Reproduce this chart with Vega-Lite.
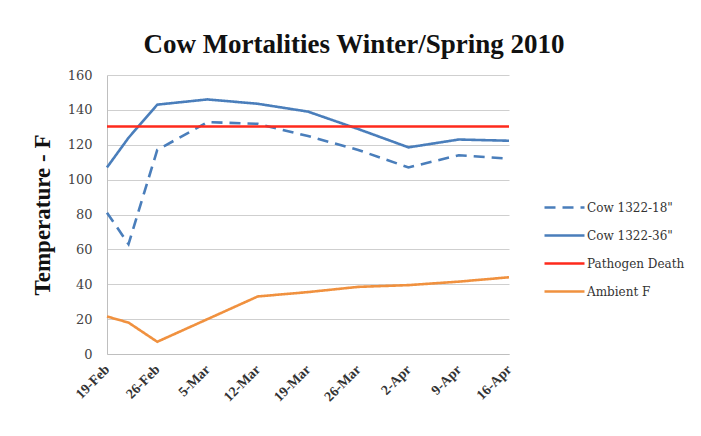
{
  "$schema": "https://vega.github.io/schema/vega-lite/v6.json",
  "autosize": "none",
  "width": 402,
  "height": 279,
  "padding": {"left": 107, "top": 75, "right": 192, "bottom": 82},
  "background": "white",
  "config": {
    "view": {"stroke": null},
    "font": "Liberation Serif"
  },
  "title": {
    "text": "Cow Mortalities Winter/Spring 2010",
    "font": "Liberation Serif",
    "fontSize": 27,
    "fontWeight": "bold",
    "color": "#111111",
    "anchor": "middle",
    "dx": 46,
    "offset": 10
  },
  "data": {
    "values": [
      {"date": "2010/02/19", "series": "Cow 1322-18\"", "temp": 81},
      {"date": "2010/02/22", "series": "Cow 1322-18\"", "temp": 63},
      {"date": "2010/02/26", "series": "Cow 1322-18\"", "temp": 117},
      {"date": "2010/03/05", "series": "Cow 1322-18\"", "temp": 133},
      {"date": "2010/03/12", "series": "Cow 1322-18\"", "temp": 132},
      {"date": "2010/03/19", "series": "Cow 1322-18\"", "temp": 125},
      {"date": "2010/03/26", "series": "Cow 1322-18\"", "temp": 117},
      {"date": "2010/04/02", "series": "Cow 1322-18\"", "temp": 107},
      {"date": "2010/04/09", "series": "Cow 1322-18\"", "temp": 114},
      {"date": "2010/04/16", "series": "Cow 1322-18\"", "temp": 112},
      {"date": "2010/02/19", "series": "Cow 1322-36\"", "temp": 107},
      {"date": "2010/02/22", "series": "Cow 1322-36\"", "temp": 124},
      {"date": "2010/02/26", "series": "Cow 1322-36\"", "temp": 143},
      {"date": "2010/03/05", "series": "Cow 1322-36\"", "temp": 146},
      {"date": "2010/03/12", "series": "Cow 1322-36\"", "temp": 143.5},
      {"date": "2010/03/19", "series": "Cow 1322-36\"", "temp": 139},
      {"date": "2010/03/26", "series": "Cow 1322-36\"", "temp": 129},
      {"date": "2010/04/02", "series": "Cow 1322-36\"", "temp": 118.5},
      {"date": "2010/04/09", "series": "Cow 1322-36\"", "temp": 123},
      {"date": "2010/04/16", "series": "Cow 1322-36\"", "temp": 122.3},
      {"date": "2010/02/19", "series": "Pathogen Death", "temp": 130.5},
      {"date": "2010/04/16", "series": "Pathogen Death", "temp": 130.5},
      {"date": "2010/02/19", "series": "Ambient F", "temp": 21.5},
      {"date": "2010/02/22", "series": "Ambient F", "temp": 18},
      {"date": "2010/02/26", "series": "Ambient F", "temp": 7},
      {"date": "2010/03/05", "series": "Ambient F", "temp": 20},
      {"date": "2010/03/12", "series": "Ambient F", "temp": 33},
      {"date": "2010/03/19", "series": "Ambient F", "temp": 35.5},
      {"date": "2010/03/26", "series": "Ambient F", "temp": 38.5},
      {"date": "2010/04/02", "series": "Ambient F", "temp": 39.5},
      {"date": "2010/04/09", "series": "Ambient F", "temp": 41.5},
      {"date": "2010/04/16", "series": "Ambient F", "temp": 44}
    ]
  },
  "mark": {"type": "line", "strokeWidth": 2.6, "strokeCap": "butt"},
  "encoding": {
    "x": {
      "field": "date",
      "type": "temporal",
      "scale": {
        "domain": [
          {"year": 2010, "month": "feb", "date": 19},
          {"year": 2010, "month": "apr", "date": 16}
        ]
      },
      "axis": {
        "title": null,
        "values": [
          {"year": 2010, "month": "feb", "date": 19},
          {"year": 2010, "month": "feb", "date": 26},
          {"year": 2010, "month": "mar", "date": 5},
          {"year": 2010, "month": "mar", "date": 12},
          {"year": 2010, "month": "mar", "date": 19},
          {"year": 2010, "month": "mar", "date": 26},
          {"year": 2010, "month": "apr", "date": 2},
          {"year": 2010, "month": "apr", "date": 9},
          {"year": 2010, "month": "apr", "date": 16}
        ],
        "format": "%-d-%b",
        "labelAngle": -45,
        "labelAlign": "right",
        "labelBaseline": "middle",
        "labelFont": "Liberation Serif",
        "labelFontSize": 14,
        "labelFontWeight": "bold",
        "labelColor": "#333333",
        "labelPadding": 13,
        "labelOverlap": false,
        "labelFlush": false,
        "grid": false,
        "ticks": false,
        "domainColor": "#bfbfbf",
        "domainWidth": 1
      }
    },
    "y": {
      "field": "temp",
      "type": "quantitative",
      "scale": {"domain": [0, 160], "nice": false},
      "axis": {
        "title": "Temperature - F",
        "titleFont": "Liberation Serif",
        "titleFontSize": 23,
        "titleFontWeight": "bold",
        "titleColor": "#111111",
        "titlePadding": 13,
        "values": [0, 20, 40, 60, 80, 100, 120, 140, 160],
        "labelFont": "DejaVu Serif",
        "labelFontSize": 13,
        "labelColor": "#444444",
        "labelPadding": 15,
        "ticks": false,
        "grid": true,
        "gridColor": "#cfcfcf",
        "gridWidth": 1.2,
        "domainColor": "#bfbfbf",
        "domainWidth": 1
      }
    },
    "color": {
      "field": "series",
      "type": "nominal",
      "scale": {
        "domain": ["Cow 1322-18\"", "Cow 1322-36\"", "Pathogen Death", "Ambient F"],
        "range": ["#4a7ebb", "#4a7ebb", "#fe2a1c", "#f0913f"]
      },
      "legend": {
        "title": null,
        "orient": "none",
        "legendX": 436,
        "legendY": 111,
        "symbolType": "stroke",
        "symbolSize": 1600,
        "symbolStrokeWidth": 2.6,
        "labelFont": "DejaVu Serif",
        "labelFontSize": 12,
        "labelColor": "#333333",
        "rowPadding": -22,
        "labelOffset": 1
      }
    },
    "strokeDash": {
      "field": "series",
      "type": "nominal",
      "scale": {
        "domain": ["Cow 1322-18\"", "Cow 1322-36\"", "Pathogen Death", "Ambient F"],
        "range": [[11, 7], [1, 0], [1, 0], [1, 0]]
      },
      "legend": null
    },
    "strokeWidth": {
      "field": "series",
      "type": "nominal",
      "scale": {
        "domain": ["Cow 1322-18\"", "Cow 1322-36\"", "Pathogen Death", "Ambient F"],
        "range": [2.6, 2.6, 3.2, 2.6]
      },
      "legend": null
    },
    "order": {"field": "date", "type": "temporal"}
  }
}
